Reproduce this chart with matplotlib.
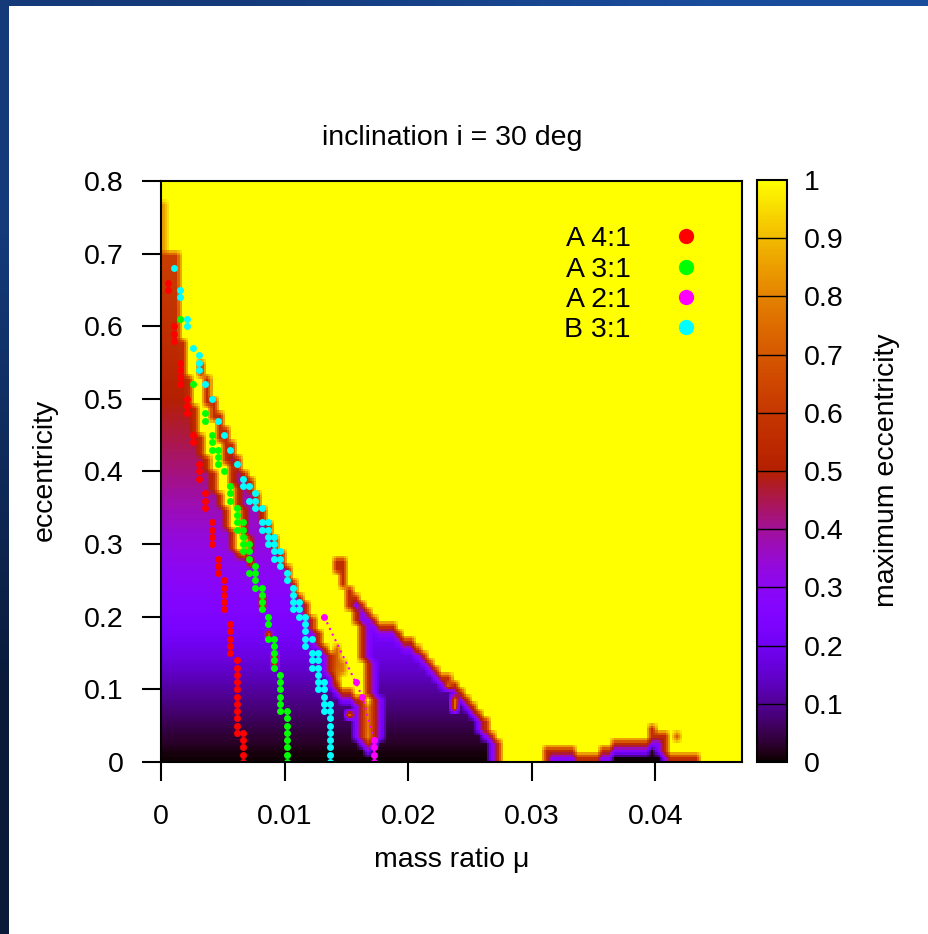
import matplotlib
matplotlib.use('Agg')
import matplotlib.pyplot as plt
import numpy as np
from matplotlib.path import Path
from matplotlib.lines import Line2D
from matplotlib.patches import Rectangle

plt.rcParams['font.family'] = ['Liberation Sans', 'DejaVu Sans']

# ---------------- resonance tracks (mass ratio, eccentricity)
a41_cols = [0.00054, 0.00105, 0.00154, 0.00208, 0.00256, 0.00308, 0.00359,
            0.0041, 0.00459, 0.0051, 0.00561, 0.00613, 0.00664]
a41_ecc = [[0.66, 0.65], [0.60, 0.59, 0.58], [0.55, 0.54, 0.53, 0.52],
           [0.50, 0.49, 0.48], [0.45, 0.44], [0.41, 0.40, 0.39],
           [0.37, 0.36, 0.35], [0.33, 0.32, 0.31, 0.30], [0.28, 0.27, 0.26],
           [0.25, 0.24, 0.23, 0.22, 0.21], [0.19, 0.18, 0.17, 0.16, 0.15],
           [0.14, 0.13, 0.12, 0.11, 0.10, 0.09, 0.08, 0.07, 0.06, 0.05, 0.04],
           [0.04, 0.03, 0.02, 0.01, 0.00]]

a31_cols = [0.00154, 0.00256, 0.00359, 0.0041, 0.00462, 0.0051, 0.00561,
            0.00613, 0.00664, 0.00713, 0.00764, 0.00815, 0.00864, 0.00915,
            0.00966, 0.01018]
a31_ecc = [[0.61], [0.52], [0.48, 0.47], [0.45, 0.44, 0.43], [0.43, 0.42, 0.41],
           [0.40], [0.38, 0.37, 0.36], [0.35, 0.34, 0.33, 0.32],
           [0.33, 0.32, 0.31, 0.30, 0.29], [0.30, 0.29, 0.28, 0.26],
           [0.27, 0.26, 0.25, 0.24], [0.24, 0.23, 0.22, 0.21], [0.20, 0.19, 0.17],
           [0.17, 0.16, 0.15, 0.14, 0.13], [0.12, 0.11, 0.10, 0.09, 0.08, 0.07],
           [0.07, 0.06, 0.05, 0.04, 0.03, 0.02, 0.01, 0.00]]

b31_cols = [0.00105, 0.00154, 0.00208, 0.00256, 0.00308, 0.00359, 0.0041,
            0.00462, 0.0051, 0.00561, 0.00613, 0.00664, 0.00713, 0.00764,
            0.00815, 0.00864, 0.00915, 0.00966, 0.01018, 0.01069, 0.01117,
            0.01168, 0.0122, 0.01268, 0.0132, 0.01371]
b31_ecc = [[0.68], [0.65, 0.64], [0.61, 0.60], [0.57], [0.56, 0.55, 0.54],
           [0.52], [0.50], [0.47], [0.45], [0.43], [0.41], [0.39, 0.38],
           [0.38, 0.36], [0.37, 0.36, 0.35], [0.35, 0.33, 0.32],
           [0.33, 0.32, 0.31, 0.30], [0.31, 0.30, 0.29, 0.28], [0.29, 0.28, 0.27],
           [0.26, 0.25], [0.24, 0.23, 0.22, 0.21], [0.22, 0.21, 0.20],
           [0.20, 0.19, 0.18, 0.17, 0.16], [0.17, 0.15, 0.14, 0.13],
           [0.15, 0.14, 0.13, 0.12, 0.11, 0.10], [0.11, 0.10, 0.09, 0.08, 0.07],
           [0.08, 0.07, 0.06, 0.05, 0.04, 0.03, 0.02, 0.01, 0.00]]

a21_mu = [0.0132, 0.01574, 0.01628, 0.01725, 0.01725, 0.01725, 0.01725]
a21_ecc = [0.20, 0.11, 0.09, 0.03, 0.02, 0.01, 0.00]

# ---------------- stability map: outlines of the non-yellow regions
main_mu = [0.0, 0.0, 0.0014, 0.0014, 0.0020, 0.0025, 0.0030, 0.0035, 0.0040,
           0.0046, 0.0052, 0.0058, 0.0064, 0.0070, 0.0076, 0.0082, 0.0087,
           0.0092, 0.0097, 0.0101, 0.0105, 0.0110, 0.0115, 0.0120, 0.0124,
           0.0129, 0.0134, 0.0139, 0.0141, 0.0146, 0.0156, 0.0163, 0.0166,
           0.0167, 0.0172, 0.0172, 0.0168, 0.0165, 0.0161, 0.0157, 0.0151,
           0.0147, 0.0142, 0.0142, 0.0148, 0.0151, 0.0161, 0.0170, 0.0185,
           0.0194, 0.0202, 0.0212, 0.0223, 0.0237, 0.0247, 0.0258, 0.0266,
           0.0275, 0.0276]
main_e = [0.0, 0.70, 0.70, 0.625, 0.62, 0.585, 0.565, 0.535, 0.515,
          0.485, 0.46, 0.44, 0.415, 0.395, 0.375, 0.355, 0.335,
          0.315, 0.295, 0.275, 0.255, 0.24, 0.225, 0.21, 0.19,
          0.175, 0.16, 0.15, 0.125, 0.105, 0.095, 0.085, 0.04,
          0.025, 0.025, 0.045, 0.085, 0.12, 0.16, 0.195, 0.22,
          0.245, 0.265, 0.28, 0.28, 0.245, 0.225, 0.20, 0.19,
          0.175, 0.17, 0.15, 0.125, 0.115, 0.088, 0.07, 0.047,
          0.028, 0.0]

chan_mu = [0.0015, 0.0019, 0.0024, 0.0027, 0.0033, 0.0040, 0.0046, 0.0052,
           0.0058, 0.0062, 0.0071, 0.0066, 0.0062, 0.0058, 0.0053, 0.0046,
           0.0038, 0.0034, 0.0030, 0.0022]
chan_e = [0.62, 0.56, 0.52, 0.49, 0.45, 0.41, 0.38, 0.35,
          0.32, 0.29, 0.29, 0.32, 0.35, 0.38, 0.41, 0.45,
          0.49, 0.52, 0.56, 0.62]

lobe_mu = [0.0312, 0.0312, 0.0337, 0.0337, 0.0353, 0.0353, 0.0365, 0.0365,
           0.0395, 0.0395, 0.0396, 0.0396, 0.0401, 0.0401, 0.0409, 0.0409,
           0.0434, 0.0434]
lobe_e = [0.0, 0.02, 0.02, 0.01, 0.01, 0.02, 0.02, 0.03,
          0.03, 0.04, 0.04, 0.05, 0.05, 0.04, 0.04, 0.01,
          0.01, 0.0]

# colour of the stable region against eccentricity
prof_e = [0.0, 0.05, 0.10, 0.15, 0.20, 0.30, 0.40, 0.50, 0.60, 0.70]
prof_val = [0.0, 0.05, 0.11, 0.18, 0.25, 0.33, 0.42, 0.50, 0.57, 0.63]

# isolated orange cells
spot_mu = [0.00025] * 7 + [0.0154, 0.0239, 0.0239, 0.0234, 0.0069, 0.0072,
                           0.0082, 0.0082, 0.0087, 0.0091, 0.0091, 0.04175, 0.0205,
                           0.01425, 0.01425, 0.01425, 0.01425, 0.01425, 0.01475, 0.01475,
                           0.01675, 0.01675, 0.01675, 0.01675, 0.01675]
spot_e = [0.705, 0.715, 0.725, 0.735, 0.745, 0.755, 0.765,
          0.065, 0.075, 0.085, 0.105, 0.285, 0.275,
          0.225, 0.215, 0.175, 0.135, 0.145, 0.035, 0.155,
          0.115, 0.125, 0.135, 0.145, 0.155, 0.125, 0.135,
          0.035, 0.045, 0.055, 0.065, 0.075]
spot_val = [0.86] * 7 + [0.7, 0.75, 0.75, 0.7, 0.72, 0.7,
                         0.7, 0.7, 0.68, 0.68, 0.68, 0.72, 0.65,
                         0.75, 0.75, 0.72, 0.72, 0.75, 0.8, 0.8,
                         0.8, 0.78, 0.78, 0.8, 0.8]

# ---------------- build the grid
mu_step, e_step = 0.0005, 0.01
nmu, ne = 94, 80
mu_c = (np.arange(nmu) + 0.5) * mu_step
e_c = (np.arange(ne) + 0.5) * e_step
MM, EE = np.meshgrid(mu_c, e_c)
pts = np.column_stack([MM.ravel(), EE.ravel()])


def inside(mu, e):
    return Path(np.column_stack([mu, e])).contains_points(pts).reshape(MM.shape)


def touches(mask):
    p = np.pad(mask, 1, mode='edge')
    return p[:-2, 1:-1] | p[2:, 1:-1] | p[1:-1, :-2] | p[1:-1, 2:]


stable = (inside(main_mu, main_e) | inside(lobe_mu, lobe_e)) & ~inside(chan_mu, chan_e)
unst = ~stable
rim1 = stable & touches(unst)
rim2 = stable & ~rim1 & touches(rim1)
val = np.where(stable, np.interp(EE, prof_e, prof_val), 1.0)
val[rim1] = np.maximum(val[rim1], 0.56)
val[rim2] = np.maximum(val[rim2], 0.28)
for m, e, v in zip(spot_mu, spot_e, spot_val):
    val[int(e / e_step), int(m / mu_step)] = v

# soften cell edges a little, like the resampled original
up = np.kron(val, np.ones((3, 3)))
p = np.pad(up, 1, mode='edge')
soft = sum(p[1 + dy:p.shape[0] - 1 + dy, 1 + dx:p.shape[1] - 1 + dx]
           for dy in (-1, 0, 1) for dx in (-1, 0, 1)) / 9.0

# ---------------- figure
FS = 20.5
fig = plt.figure(figsize=(9.29, 9.34), dpi=100)

bg = fig.add_axes([0, 0, 1, 1], zorder=-10)
grad = np.array([[[10, 26, 56], [14, 40, 80]],
                 [[20, 58, 122], [26, 76, 156]]], dtype=float) / 255
bg.imshow(grad, extent=[0, 1, 0, 1], aspect='auto', interpolation='bilinear', origin='lower')
bg.add_patch(Rectangle((9 / 929, 0), 1, 1 - 6 / 934, facecolor='white', edgecolor='none'))
bg.set_xlim(0, 1)
bg.set_ylim(0, 1)
bg.axis('off')

ax = fig.add_axes([161 / 929, 172 / 934, 581 / 929, 581 / 934])
ax.imshow(soft, origin='lower', extent=[0, nmu * mu_step, 0, ne * e_step],
          aspect='auto', cmap='gnuplot', vmin=0, vmax=1, interpolation='nearest')

for cols, eccs, c in [(a41_cols, a41_ecc, '#ff0000'), (a31_cols, a31_ecc, '#00ff00'),
                      (b31_cols, b31_ecc, '#00ffff')]:
    mus = [m for m, es in zip(cols, eccs) for _ in es]
    es = [e for es in eccs for e in es]
    ax.plot(mus, es, ls='none', marker='o', ms=5, color=c, mec='none')
ax.plot(a21_mu, a21_ecc, ls=(0, (1, 2)), lw=1.5, color='#ff00ff',
        marker='o', ms=5, mec='none')

ax.set_xlim(0, 0.047)
ax.set_ylim(0, 0.8)
ax.set_xticks([0, 0.01, 0.02, 0.03, 0.04])
ax.set_xticklabels(['0', '0.01', '0.02', '0.03', '0.04'])
ax.set_yticks(np.arange(0, 0.81, 0.1))
ax.set_yticklabels(['0', '0.1', '0.2', '0.3', '0.4', '0.5', '0.6', '0.7', '0.8'])
ax.tick_params(direction='out', length=14, width=1.5, labelsize=FS, colors='black')
ax.tick_params(axis='x', pad=16)
ax.tick_params(axis='y', pad=13)
for s in ax.spines.values():
    s.set_linewidth(1.5)

sm = plt.cm.ScalarMappable(cmap='gnuplot', norm=plt.Normalize(0, 1))

handles = [Line2D([], [], ls='none', marker='o', ms=11, mec='none', color=c, label=l)
           for c, l in [('#ff0000', 'A 4:1'), ('#00ff00', 'A 3:1'),
                        ('#ff00ff', 'A 2:1'), ('#00ffff', 'B 3:1')]]
ax.legend(handles=handles, loc='upper right', bbox_to_anchor=(0.95, 0.922),
          markerfirst=False, frameon=False, fontsize=FS, handletextpad=1.0,
          handlelength=1.9, labelspacing=0.15, borderpad=0, borderaxespad=0)

fig.text(452 / 929, 1 - 138 / 934, 'inclination i = 30 deg', ha='center', va='center', fontsize=FS)
fig.text(452 / 929, 1 - 860 / 934, 'mass ratio μ', ha='center', va='center', fontsize=FS)
fig.text(45 / 929, 1 - 470 / 934, 'eccentricity', ha='center', va='center',
         rotation=90, fontsize=FS)

cax = fig.add_axes([757 / 929, 172 / 934, 30 / 929, 582 / 934])
cb = fig.colorbar(sm, cax=cax)
cb.set_ticks(np.arange(0, 1.01, 0.1))
cb.set_ticklabels(['0', '0.1', '0.2', '0.3', '0.4', '0.5', '0.6', '0.7', '0.8', '0.9', '1'])
cax.tick_params(length=0, pad=12, labelsize=FS)
cb.outline.set_linewidth(1.5)
for v in np.arange(0.1, 0.95, 0.1):
    cax.axhline(v, color='black', lw=1)
fig.text(887 / 929, 1 - 470 / 934, 'maximum eccentricity', ha='center', va='center',
         rotation=90, fontsize=FS)

fig.savefig('out.png', dpi=100)
